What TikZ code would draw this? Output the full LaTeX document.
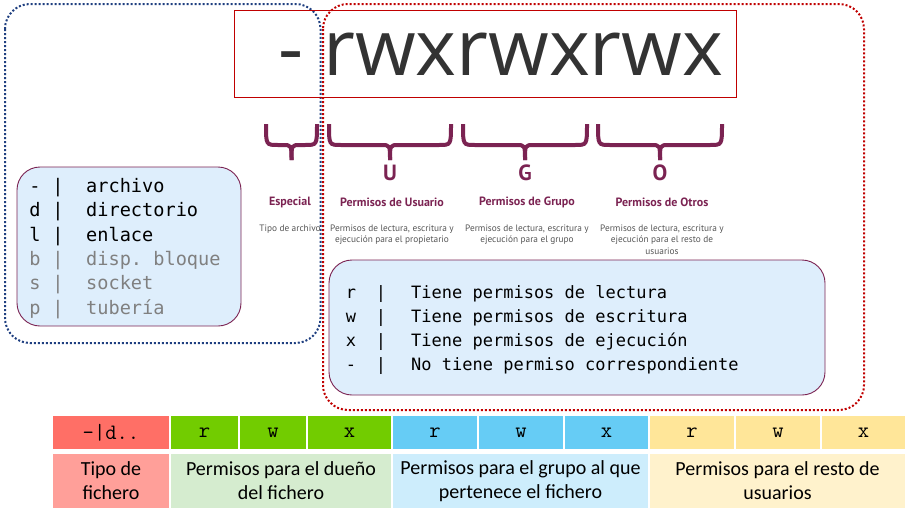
\documentclass[tikz,border=0pt]{standalone}
\usepackage{fontspec}
\setmainfont{Carlito}
\setmonofont{DejaVu Sans Mono}
\newfontfamily\rwxfont{Open Sans}
\newfontfamily\ubfont{PT Sans}
\newfontfamily\courfont{Latin Modern Mono}

\definecolor{morado}{HTML}{7B2352}
\definecolor{gristxt}{HTML}{555555}
\definecolor{azulP}{HTML}{1F3F80}
\definecolor{rojoP}{HTML}{C00000}
\definecolor{fondo}{HTML}{DEEEFC}
\definecolor{rojoA}{HTML}{FF6F66}
\definecolor{rojoB}{HTML}{FF9F99}
\definecolor{verdeA}{HTML}{72CC00}
\definecolor{verdeB}{HTML}{D5ECCF}
\definecolor{azulA}{HTML}{66CCF5}
\definecolor{azulB}{HTML}{CDEDFC}
\definecolor{amarA}{HTML}{FFE699}
\definecolor{amarB}{HTML}{FFF2CC}

% llave: xa, xb, centro
\newcommand{\llave}[3]{%
  \draw[llave] (#1,124) .. controls (#1,145) .. (#1+12,145) -- (#3-9,145)
    .. controls (#3,145) .. (#3,160);
  \draw[llave] (#2,124) .. controls (#2,145) .. (#2-12,145) -- (#3+9,145)
    .. controls (#3,145) .. (#3,160);}

\begin{document}
\begin{tikzpicture}[x=1pt, y=-1pt,
    punteado/.style={line width=2pt, dash pattern=on 2pt off 2pt, rounded corners=25pt},
    llave/.style={morado, line width=4pt},
    caja/.style={draw=morado, line width=0.9pt, fill=fondo, rounded corners=23pt, inner sep=0pt},
    letra/.style={font=\ubfont\bfseries\fontsize{22}{22}\selectfont, text=morado},
    titulo/.style={font=\ubfont\bfseries\fontsize{12}{14}\selectfont, text=morado},
    desc/.style={font=\ubfont\fontsize{9.3}{11.5}\selectfont, text=gristxt, align=center, anchor=north},
    mono/.style={font=\ttfamily\fontsize{17}{17}\selectfont, inner sep=0pt, anchor=base},
    celda/.style={draw=white, line width=1.5pt, inner sep=0pt},
    cabecera/.style={celda, minimum height=35pt, font=\courfont\fontsize{22}{22}\selectfont},
    pie/.style={celda, minimum height=56pt, align=center, font=\fontsize{20}{24}\selectfont}]

  \useasboundingbox (0,0) rectangle (914,512);

  % recuadros punteados
  \draw[punteado, azulP] (5,4) rectangle (320.5,343);
  \draw[punteado, rojoP] (323,4) rectangle (864,410);

  % cadena de permisos
  \node[draw=rojoP, thick, minimum width=502pt, minimum height=87pt] (cadena) at (485,53.5) {};
  \node[font=\rwxfont\fontsize{78}{78}\selectfont, text=black!80, inner sep=0pt, anchor=base] (guion) at (291,75) {-};
  \node[font=\rwxfont\fontsize{78}{78}\selectfont, text=black!80, inner sep=0pt, anchor=base west] (rwx) at (323,75) {rwxrwxrwx};

  % llaves
  \llave{266}{317}{291.5}
  \llave{329}{451}{390}
  \llave{463}{587}{525}
  \llave{598}{722}{660}

  \node[letra] (U) at (390,173) {U};
  \node[letra] (G) at (525,173) {G};
  \node[letra] (O) at (660,173) {O};

  \node[titulo] (esp) at (290,202) {Especial};
  \node[titulo] (usu) at (392,202) {Permisos de Usuario};
  \node[titulo] (gru) at (527,202) {Permisos de Grupo};
  \node[titulo] (otr) at (662,202) {Permisos de Otros};

  \node[desc] (d-esp) at (290,221) {Tipo de archivo};
  \node[desc] (d-usu) at (392,221) {Permisos de lectura, escritura y\\ejecución para el propietario};
  \node[desc] (d-gru) at (527,221) {Permisos de lectura, escritura y\\ejecución para el grupo};
  \node[desc] (d-otr) at (662,221) {Permisos de lectura, escritura y\\ejecución para el resto de\\usuarios};

  % tipos de fichero
  \node[caja, minimum width=224pt, minimum height=159pt] (tipos) at (129,246.5) {};
  \foreach \c/\t/\col [count=\i] in {-/archivo/black, d/directorio/black, l/enlace/black,
      b/disp. bloque/gray, s/socket/gray, p/tubería/gray} {
    \node[mono, text=\col, font=\ttfamily\fontsize{18.6}{18.6}\selectfont] (t\i) at (35,{186+6.5+(\i-1)*24.3}) {\c};
    \node[mono, text=\col, font=\ttfamily\fontsize{18.6}{18.6}\selectfont] (b\i) at (58,{186+6.5+(\i-1)*24.3}) {|};
    \node[mono, text=\col, font=\ttfamily\fontsize{18.6}{18.6}\selectfont, anchor=base west] (n\i) at (86,{186+6.5+(\i-1)*24.3}) {\t};
  }

  % significado de los permisos
  \node[caja, minimum width=496pt, minimum height=135pt] (leyenda) at (577,327.5) {};
  \foreach \c/\t [count=\i] in {r/Tiene permisos de lectura, w/Tiene permisos de escritura,
      x/Tiene permisos de ejecución, -/No tiene permiso correspondiente} {
    \node[mono] (p\i) at (351,{292+6+(\i-1)*24.2}) {\c};
    \node[mono] (q\i) at (381,{292+6+(\i-1)*24.2}) {|};
    \node[mono, anchor=base west] (s\i) at (411,{292+6+(\i-1)*24.2}) {\t};
  }

  % tabla inferior
  \foreach \nom/\xa/\xb/\col/\txt in {tipo/52/170/rojoA/{—|d..}, ur/170/239/verdeA/r,
      uw/239/307/verdeA/w, ux/307/392/verdeA/x, gr/392/478/azulA/r, gw/478/564/azulA/w,
      gx/564/649/azulA/x, or/649/735/amarA/r, ow/735/821/amarA/w, ox/821/906/amarA/x}
    \node[cabecera, fill=\col, minimum width={(\xb-\xa)*1pt}] (\nom) at ({(\xa+\xb)/2},432.5) {\txt};

  \node[pie, fill=rojoB, minimum width=118pt] (f-tipo) at (111,481) {Tipo de\\fichero};
  \node[pie, fill=verdeB, minimum width=222pt] (f-usu) at (281,481) {Permisos para el dueño\\del fichero};
  \node[pie, fill=azulB, minimum width=257pt] (f-gru) at (520.5,481) {Permisos para el grupo al que\\pertenece el fichero};
  \node[pie, fill=amarB, minimum width=257pt] (f-otr) at (777.5,481) {Permisos para el resto de\\usuarios};

\end{tikzpicture}
\end{document}
